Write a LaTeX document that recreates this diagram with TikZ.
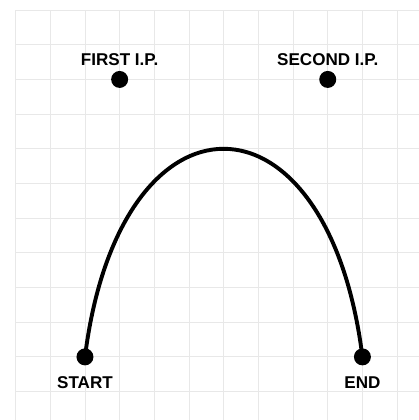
\documentclass[tikz,border=0pt]{standalone}
\usepackage{fontspec}
\newfontfamily\lblfont{Liberation Sans}
\usetikzlibrary{positioning}
\tikzset{
  gridline/.style={draw=black!9,line width=0.7pt},
  dot/.style={circle,fill=black,inner sep=0pt,minimum size=0.49cm},
  lbl/.style={inner sep=0pt,font=\lblfont\bfseries\fontsize{14}{16}\selectfont},
  curve/.style={line width=3.2pt}
}
\begin{document}
\begin{tikzpicture}
\useasboundingbox (-0.45,-11.82) rectangle (11.62,0.29);
\draw[gridline] (0,-11.82) grid (11.62,0);
\node[dot] (start) at (2,-10) {};
\node[dot] (first) at (3,-2) {};
\node[dot] (second) at (9,-2) {};
\node[dot] (end) at (10,-10) {};
\node[lbl,below=0.32cm of start] {START};
\node[lbl,above=0.14cm of first] {FIRST I.P.};
\node[lbl,above=0.14cm of second] {SECOND I.P.};
\node[lbl,below=0.32cm of end] {END};
\draw[curve] (start.center) .. controls (first.center) and (second.center) .. (end.center);
\end{tikzpicture}
\end{document}
